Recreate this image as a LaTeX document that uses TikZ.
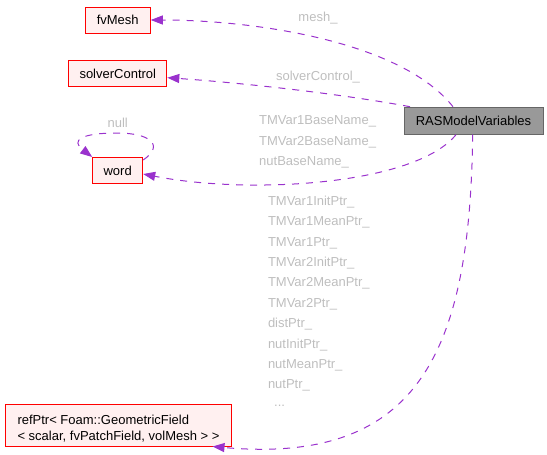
\documentclass[tikz,border=0pt]{standalone}
\usepackage{fontspec}
\setmainfont{Liberation Sans}
\usetikzlibrary{arrows.meta}
\definecolor{edgec}{HTML}{9A32CD}
\definecolor{labc}{HTML}{BEBEBE}
\definecolor{boxbg}{HTML}{FFF0F0}
\definecolor{rasbg}{HTML}{999999}
\definecolor{rasbd}{HTML}{666666}
\newcommand\dfs{\fontsize{13}{16.4}\selectfont}
\tikzset{
  cls/.style={draw=red, fill=boxbg, line width=1pt, inner sep=0pt, font=\dfs,
    text height=9.4pt, text depth=0pt},
  mainbox/.style={draw=rasbd, fill=rasbg, line width=1pt, inner sep=0pt, font=\dfs,
    text height=9.4pt, text depth=0pt},
  elab/.style={text=labc, font=\dfs, inner sep=0pt, text height=9.4pt, text depth=0pt},
  dep/.style={draw=edgec, line width=1pt, dash pattern=on 7pt off 7pt,
    -{Triangle[length=12pt,width=9pt,fill=edgec]}},
}
\begin{document}
\begin{tikzpicture}[x=1pt,y=-1pt]
\useasboundingbox (0,0) rectangle (547,455);
% nodes
\node[cls, minimum width=65pt, minimum height=26pt] (fv) at (117.75,20) {fvMesh};
\node[cls, minimum width=98pt, minimum height=26pt] (sc) at (117.8,73.3) {solverControl};
\node[cls, minimum width=50pt, minimum height=26pt] (word) at (117.7,170.5) {word};
\node[mainbox, minimum width=139pt, minimum height=27pt] (ras) at (473.5,120.7) {RASModelVariables};
\node[cls, anchor=west, align=left, minimum width=226pt,
      minimum height=42pt, text height=35.8pt, text depth=5pt] (ref) at (5,425)
  {refPtr< Foam::GeometricField\\< scalar, fvPatchField, volMesh > >};
% edges
\draw[dep] ([xshift=-20.5pt]ras.north) .. controls (400,40) and (250,20) .. (fv.east);
\draw[dep] ([xshift=-63.5pt]ras.north) .. controls (330,92) and (230,82) .. ([yshift=-4.4pt]sc.east);
\draw[dep] ([xshift=-17.5pt]ras.south) .. controls (415,185) and (250,195) .. ([yshift=-3.5pt]word.east);
\draw[dep] ([xshift=-0.8pt]ras.south) .. controls (470,350) and (420,465) .. ([xshift=94pt]ref.south);
\draw[dep] ([yshift=-3pt]word.north east) .. controls (165,145) and (150,133) .. (117,133)
   .. controls (82,133) and (70,140) .. (word.north west);
% labels
\node[elab] (lmesh) at (318,16.7) {mesh\_};
\node[elab] (lsc) at (318,75.7) {solverControl\_};
\node[elab] (lnull) at (117.7,122.7) {null};
\node[elab, anchor=west] (lb1) at (259,120) {TMVar1BaseName\_};
\node[elab, anchor=west] (lb2) at (259,140.3) {TMVar2BaseName\_};
\node[elab, anchor=west] (lb3) at (259,160.7) {nutBaseName\_};
\node[elab, anchor=west] (lp1) at (267.8,200.7) {TMVar1InitPtr\_};
\node[elab, anchor=west] (lp2) at (267.8,221.1) {TMVar1MeanPtr\_};
\node[elab, anchor=west] (lp3) at (267.8,241.4) {TMVar1Ptr\_};
\node[elab, anchor=west] (lp4) at (267.8,261.8) {TMVar2InitPtr\_};
\node[elab, anchor=west] (lp5) at (267.8,282.2) {TMVar2MeanPtr\_};
\node[elab, anchor=west] (lp6) at (267.8,302.5) {TMVar2Ptr\_};
\node[elab, anchor=west] (lp7) at (267.8,322.9) {distPtr\_};
\node[elab, anchor=west] (lp8) at (267.8,343.3) {nutInitPtr\_};
\node[elab, anchor=west] (lp9) at (267.8,363.6) {nutMeanPtr\_};
\node[elab, anchor=west] (lp10) at (267.8,384) {nutPtr\_};
\node[elab, anchor=west] (lp11) at (274,402) {...};
\end{tikzpicture}
\end{document}
